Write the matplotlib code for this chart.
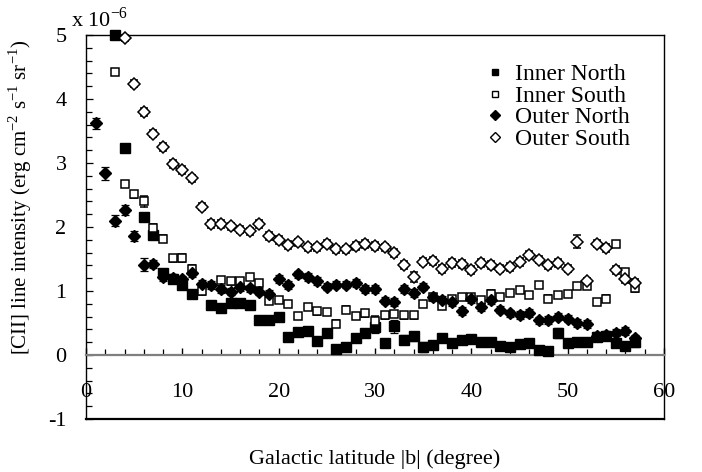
import matplotlib
matplotlib.use("Agg")
import matplotlib.pyplot as plt
from matplotlib.ticker import MultipleLocator
from matplotlib.lines import Line2D

plt.rcParams['font.family'] = ['Liberation Serif', 'DejaVu Serif']
plt.rcParams['mathtext.fontset'] = 'custom'
plt.rcParams['mathtext.rm'] = 'Liberation Serif'

# ---- data (intensity in units of 1e-6 erg cm^-2 s^-1 sr^-1) ----
in_b = [3, 4, 6, 7, 8, 9, 10, 11, 13, 14, 15, 16, 17, 18, 19, 20,
        21, 22, 23, 24, 25, 26, 27, 28, 29, 30, 31, 32, 33, 34, 35, 36, 37, 38, 39, 40,
        41, 42, 43, 44, 45, 46, 47, 48, 49, 50, 51, 52, 53, 54, 55, 56, 57]
in_v = [5.0, 3.24, 2.16, 1.87, 1.28, 1.18, 1.09, 0.96, 0.78, 0.73, 0.81, 0.81, 0.78, 0.55, 0.55, 0.59,
        0.28, 0.36, 0.37, 0.22, 0.35, 0.10, 0.12, 0.26, 0.35, 0.44, 0.19, 0.45, 0.24, 0.29, 0.13, 0.15, 0.26, 0.19, 0.23, 0.25,
        0.21, 0.21, 0.14, 0.13, 0.17, 0.18, 0.08, 0.07, 0.34, 0.19, 0.21, 0.21, 0.28, 0.30, 0.18, 0.14, 0.20]
in_e = [0.04, 0.05, 0.05, 0.05, 0.05, 0.05, 0.05, 0.05, 0.05, 0.05, 0.05, 0.05, 0.05, 0.05, 0.05, 0.05,
        0.05, 0.05, 0.05, 0.05, 0.05, 0.05, 0.05, 0.05, 0.05, 0.10, 0.05, 0.10, 0.07, 0.07, 0.08, 0.05, 0.05, 0.05, 0.05, 0.05,
        0.05, 0.05, 0.05, 0.05, 0.05, 0.05, 0.05, 0.05, 0.08, 0.05, 0.05, 0.05, 0.05, 0.05, 0.05, 0.05, 0.08]

is_b = [3, 4, 5, 6, 7, 8, 9, 10, 11, 12, 14, 15, 16, 17, 18, 19, 20,
        21, 22, 23, 24, 25, 26, 27, 28, 29, 30, 31, 32, 33, 34, 35, 36, 37, 38, 39, 40,
        41, 42, 43, 44, 45, 46, 47, 48, 49, 50, 51, 52, 53, 54, 55, 56, 57]
is_v = [4.42, 2.67, 2.51, 2.40, 1.99, 1.82, 1.51, 1.52, 1.35, 1.00, 1.17, 1.15, 1.15, 1.22, 1.12, 0.84, 0.86,
        0.80, 0.61, 0.75, 0.68, 0.67, 0.49, 0.71, 0.61, 0.65, 0.53, 0.62, 0.64, 0.62, 0.62, 0.80, 0.91, 0.77, 0.87, 0.91, 0.90,
        0.86, 0.96, 0.91, 0.97, 1.02, 0.94, 1.09, 0.88, 0.94, 0.95, 1.08, 1.08, 0.83, 0.88, 1.73, 1.29, 1.04]
is_e = [0.05, 0.05, 0.06, 0.08, 0.06, 0.06, 0.06, 0.06, 0.06, 0.06, 0.05, 0.05, 0.05, 0.05, 0.05, 0.05, 0.05,
        0.05, 0.05, 0.05, 0.05, 0.05, 0.05, 0.05, 0.05, 0.05, 0.08, 0.05, 0.05, 0.05, 0.05, 0.05, 0.05, 0.05, 0.05, 0.05, 0.05,
        0.05, 0.05, 0.05, 0.05, 0.05, 0.05, 0.05, 0.05, 0.05, 0.05, 0.05, 0.05, 0.05, 0.05, 0.05, 0.05, 0.06]

on_b = list(range(1, 58))
on_v = [3.62, 2.84, 2.10, 2.27, 1.86, 1.41, 1.42, 1.22, 1.20, 1.18, 1.28, 1.11, 1.09, 1.03, 0.99, 1.06, 1.04, 0.99, 0.95, 1.19,
        1.09, 1.26, 1.22, 1.16, 1.07, 1.10, 1.10, 1.12, 1.03, 1.03, 0.85, 0.83, 1.03, 0.97, 1.07, 0.91, 0.86, 0.83, 0.69, 0.87,
        0.75, 0.86, 0.71, 0.65, 0.63, 0.66, 0.54, 0.55, 0.60, 0.57, 0.50, 0.48, 0.30, 0.32, 0.35, 0.37, 0.26]
on_e = [0.09, 0.10, 0.08, 0.08, 0.08, 0.10, 0.06, 0.06, 0.06, 0.06, 0.06, 0.06, 0.06, 0.06, 0.06, 0.06, 0.06, 0.06, 0.06, 0.06,
        0.06, 0.06, 0.06, 0.06, 0.06, 0.06, 0.06, 0.06, 0.06, 0.06, 0.06, 0.06, 0.06, 0.06, 0.06, 0.06, 0.06, 0.06, 0.06, 0.06,
        0.06, 0.06, 0.06, 0.06, 0.06, 0.06, 0.06, 0.06, 0.06, 0.06, 0.06, 0.06, 0.06, 0.06, 0.06, 0.06, 0.06]

os_b = list(range(4, 58))
os_v = [4.95, 4.24, 3.80, 3.46, 3.25, 2.98, 2.89, 2.76, 2.32, 2.05, 2.05, 2.01, 1.96, 1.93, 2.05, 1.86, 1.80,
        1.72, 1.76, 1.68, 1.68, 1.74, 1.65, 1.65, 1.70, 1.73, 1.70, 1.68, 1.59, 1.41, 1.22, 1.46, 1.47, 1.34, 1.44, 1.42, 1.33,
        1.44, 1.41, 1.35, 1.38, 1.45, 1.56, 1.49, 1.40, 1.44, 1.35, 1.77, 1.15, 1.74, 1.67, 1.33, 1.19, 1.12]
os_e = [0.05, 0.06, 0.06, 0.06, 0.06, 0.06, 0.06, 0.06, 0.06, 0.06, 0.06, 0.06, 0.06, 0.06, 0.06, 0.06, 0.06,
        0.06, 0.06, 0.06, 0.06, 0.06, 0.06, 0.06, 0.06, 0.06, 0.06, 0.06, 0.06, 0.06, 0.08, 0.06, 0.06, 0.06, 0.06, 0.06, 0.06,
        0.06, 0.06, 0.06, 0.06, 0.06, 0.06, 0.06, 0.06, 0.06, 0.06, 0.10, 0.06, 0.06, 0.06, 0.06, 0.06, 0.06]

labels = ["Inner North", "Inner South", "Outer North", "Outer South"]
x_ticks = [0, 10, 20, 30, 40, 50, 60]
y_ticks = [-1, 0, 1, 2, 3, 4, 5]

fig = plt.figure(figsize=(7.02, 4.72), dpi=100)
ax = fig.add_axes([86/702, 1-419/472, (664-86)/702, (419-35)/472])

styles = [
    (in_b, in_v, in_e, dict(marker='s', ms=6.6, mfc='black', mec='black')),
    (is_b, is_v, is_e, dict(marker='s', ms=6.4, mfc='white', mec='black', mew=1.1)),
    (on_b, on_v, on_e, dict(marker='D', ms=6.0, mfc='black', mec='black')),
    (os_b, os_v, os_e, dict(marker='D', ms=6.0, mfc='white', mec='black', mew=1.1)),
]
for (b, v, e, st), lab in zip(styles, labels):
    ax.errorbar(b, v, yerr=e, ls='none', ecolor='black', elinewidth=0.9,
                capsize=2.6, capthick=0.9, clip_on=False, zorder=3, **st)

ax.set_xlim(0, 60)
ax.set_ylim(-1, 5)

# axis styling
ax.spines['bottom'].set_position(('data', 0))
ax.spines['bottom'].set_color('#7f7f7f')
ax.spines['bottom'].set_linewidth(1.6)
ax.spines['left'].set_linewidth(1.0)
ax.spines['top'].set_linewidth(1.0)
ax.spines['right'].set_linewidth(1.0)
ax.axhline(-1, color='black', lw=1.6, clip_on=False, zorder=5)

ax.set_xticks(x_ticks)
ax.xaxis.set_minor_locator(MultipleLocator(2))
ax.set_yticks(y_ticks)
ax.yaxis.set_minor_locator(MultipleLocator(0.2))
ax.tick_params(axis='x', which='major', direction='in', length=5, width=1.0, color='black',
               labelsize=16, pad=20)
ax.tick_params(axis='x', which='minor', direction='in', length=4, width=0.9, color='black')
ax.tick_params(axis='y', which='both', direction='in', width=0.9, labelsize=16, pad=14)
ax.tick_params(axis='y', which='major', length=5)
ax.tick_params(axis='y', which='minor', length=4)
ax.set_yticklabels([str(t) for t in y_ticks])

fig.text(71/702, 1-19/472, r'x 10$^{\mathregular{-6}}$', fontsize=16, ha='left', va='center')
fig.text(20/702, 1-197/472,
         r'[CII] line intensity (erg cm$^{\mathregular{-2}}$ s$^{\mathregular{-1}}$ sr$^{\mathregular{-1}}$)',
         rotation=90, fontsize=15, ha='center', va='center')
fig.text(375/702, 1-459/472, 'Galactic latitude |b| (degree)', fontsize=16, ha='center', va='center')

handles = [
    Line2D([], [], ls='none', marker='s', ms=5, mfc='black', mec='black'),
    Line2D([], [], ls='none', marker='s', ms=5, mfc='white', mec='black', mew=1.0),
    Line2D([], [], ls='none', marker='D', ms=4.6, mfc='black', mec='black'),
    Line2D([], [], ls='none', marker='D', ms=4.6, mfc='white', mec='black', mew=1.0),
]
ax.legend(handles, labels, loc='upper left', bbox_to_anchor=(474/702, 1-52/472),
          bbox_transform=fig.transFigure, frameon=False, fontsize=17,
          handlelength=0.8, handletextpad=0.45, labelspacing=0.0, borderpad=0)

fig.savefig('out.png', dpi=100)
